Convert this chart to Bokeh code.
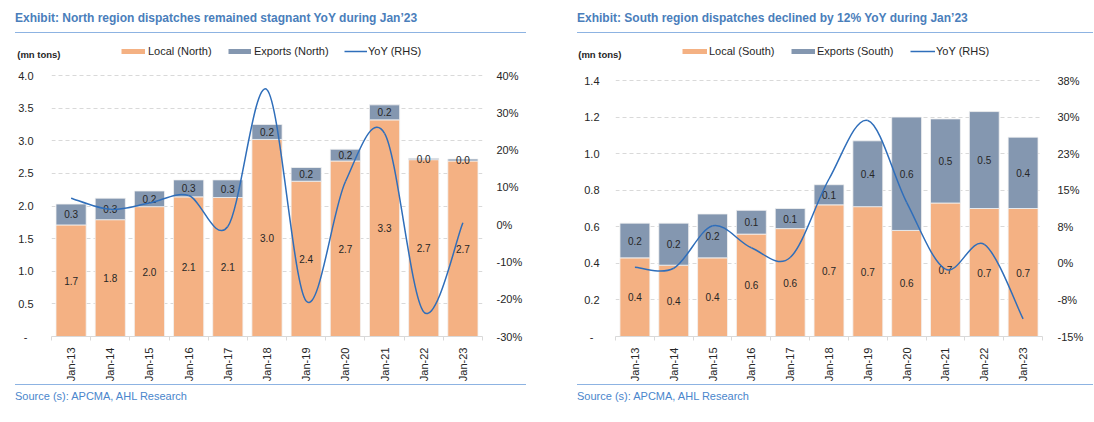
import math
from bokeh.plotting import figure
from bokeh.models import (ColumnDataSource, Range1d, LinearAxis, FixedTicker,
                          Legend, LegendItem, Div)
from bokeh.layouts import row, column
from bokeh.core.properties import value
from bokeh.embed import file_html
from bokeh.resources import INLINE

# ---------------- data ----------------
categories = ["Jan-13", "Jan-14", "Jan-15", "Jan-16", "Jan-17", "Jan-18",
              "Jan-19", "Jan-20", "Jan-21", "Jan-22", "Jan-23"]

north_local = [1.71, 1.79, 1.99, 2.14, 2.13, 3.02, 2.38, 2.69, 3.32, 2.71, 2.69]
north_exports = [0.32, 0.33, 0.24, 0.26, 0.27, 0.23, 0.21, 0.18, 0.23, 0.02, 0.03]
north_yoy = [7.1, 4.1, 5.8, 7.8, -0.5, 36.2, -20.5, 11.5, 24.5, -23.4, 0.5]

south_local = [0.43, 0.39, 0.43, 0.56, 0.59, 0.72, 0.71, 0.58, 0.73, 0.70, 0.70]
south_exports = [0.19, 0.23, 0.24, 0.13, 0.11, 0.11, 0.36, 0.62, 0.46, 0.53, 0.39]
south_yoy = [-0.8, -1.0, 7.7, 3.2, 1.2, 17.3, 29.3, 12.5, -1.2, 3.9, -11.4]

north_left_ticks = [0, 0.5, 1.0, 1.5, 2.0, 2.5, 3.0, 3.5, 4.0]
north_left_labels = ["-\u00a0\u00a0", "0.5", "1.0", "1.5", "2.0", "2.5", "3.0", "3.5", "4.0"]
north_right_ticks = [-30, -20, -10, 0, 10, 20, 30, 40]
north_right_labels = ["-30%", "-20%", "-10%", "0%", "10%", "20%", "30%", "40%"]

south_left_ticks = [0, 0.2, 0.4, 0.6, 0.8, 1.0, 1.2, 1.4]
south_left_labels = ["-\u00a0\u00a0", "0.2", "0.4", "0.6", "0.8", "1.0", "1.2", "1.4"]
south_right_ticks = [-15, -7.5, 0, 7.5, 15, 22.5, 30, 37.5]
south_right_labels = ["-15%", "-8%", "0%", "8%", "15%", "23%", "30%", "38%"]

north_title = "Exhibit: North region dispatches remained stagnant YoY during Jan\u201923"
south_title = "Exhibit: South region dispatches declined by 12% YoY during Jan\u201923"
north_legend = ["Local (North)", "Exports (North)", "YoY (RHS)"]
south_legend = ["Local (South)", "Exports (South)", "YoY (RHS)"]
unit_label = "(mn tons)"
source_text = "Source (s): APCMA, AHL Research"

# ---------------- style ----------------
C_LOCAL = "#F4B183"
C_EXP = "#8497B0"
C_LINE = "#2F6EBA"
C_GRID = "#D9D9D9"
C_TXT = "#262626"
C_TITLE = "#4A7EBB"
C_SRC = "#4A86CC"
C_RULE = "#8DB3E2"
FONT = "Liberation Sans"

PANEL_W = 547
TITLE_H = 36
LEG_H = 26
LEG_TOP = 9
FIG_H = 322
SRC_H = 38
BORDER_TOP = 2
BORDER_BOTTOM = 48
FRAME_H = FIG_H - BORDER_TOP - BORDER_BOTTOM


def smooth_segments(xs, ys):
    """Catmull-Rom style cubic Bezier segments through the data points."""
    n = len(xs)
    d = dict(x0=[], y0=[], x1=[], y1=[], cx0=[], cy0=[], cx1=[], cy1=[])
    for i in range(n - 1):
        xp, yp = (xs[i - 1], ys[i - 1]) if i > 0 else (xs[i], ys[i])
        xn, yn = (xs[i + 2], ys[i + 2]) if i + 2 < n else (xs[i + 1], ys[i + 1])
        d["x0"].append(xs[i]); d["y0"].append(ys[i])
        d["x1"].append(xs[i + 1]); d["y1"].append(ys[i + 1])
        d["cx0"].append(xs[i] + (xs[i + 1] - xp) / 6.0)
        d["cy0"].append(ys[i] + (ys[i + 1] - yp) / 6.0)
        d["cx1"].append(xs[i + 1] - (xn - xs[i]) / 6.0)
        d["cy1"].append(ys[i + 1] - (yn - ys[i]) / 6.0)
    return d


def make_chart(local, exports, yoy, lticks, llabels, rticks, rlabels,
               border_left, border_right, top_tick_px, left_standoff, right_standoff):
    n = len(categories)
    xs = list(range(n))
    scale = FRAME_H / (FRAME_H - top_tick_px)
    lmax = lticks[-1]
    rmin, rmax = rticks[0], rticks[-1]

    p = figure(width=PANEL_W, height=FIG_H, output_backend="svg", toolbar_location=None,
               x_range=Range1d(-0.5, n - 0.5), y_range=Range1d(0, lmax * scale),
               min_border_left=border_left, min_border_right=border_right,
               min_border_top=BORDER_TOP, min_border_bottom=BORDER_BOTTOM)
    p.extra_y_ranges = {"yoy": Range1d(rmin, rmin + (rmax - rmin) * scale)}
    p.outline_line_color = None
    p.background_fill_color = "white"
    p.border_fill_color = "white"

    src = ColumnDataSource(dict(
        x=xs, local=local, exports=exports,
        ly=[v / 2.0 for v in local],
        ey=[a + b / 2.0 for a, b in zip(local, exports)],
        lt=[f"{v:.1f}" for v in local],
        et=[f"{v:.1f}" for v in exports],
    ))
    p.vbar_stack(["local", "exports"], x="x", width=0.77, color=[C_LOCAL, C_EXP],
                 line_color="#F2F2F2", line_width=0.8, source=src)
    for ycol, tcol in (("ly", "lt"), ("ey", "et")):
        p.text(x="x", y=ycol, text=tcol, source=src, text_align="center",
               text_baseline="middle", text_font=value(FONT),
               text_font_size="10px", text_color=C_TXT)

    bsrc = ColumnDataSource(smooth_segments(xs, yoy))
    p.bezier(x0="x0", y0="y0", x1="x1", y1="y1", cx0="cx0", cy0="cy0",
             cx1="cx1", cy1="cy1", source=bsrc, line_color=C_LINE,
             line_width=1.5, y_range_name="yoy")

    ya = p.yaxis[0]
    ya.ticker = FixedTicker(ticks=lticks)
    ya.major_label_overrides = dict(zip(lticks, llabels))
    ya.axis_line_color = None
    ya.major_tick_line_color = None
    ya.minor_tick_line_color = None
    ya.major_label_standoff = left_standoff
    ya.major_label_text_font = FONT
    ya.major_label_text_font_size = "11px"
    ya.major_label_text_color = C_TXT

    ra = LinearAxis(y_range_name="yoy", ticker=FixedTicker(ticks=rticks),
                    major_label_overrides=dict(zip(rticks, rlabels)))
    ra.axis_line_color = None
    ra.major_tick_line_color = None
    ra.minor_tick_line_color = None
    ra.major_label_standoff = right_standoff
    ra.major_label_text_font = FONT
    ra.major_label_text_font_size = "11px"
    ra.major_label_text_color = C_TXT
    p.add_layout(ra, "right")

    xa = p.xaxis[0]
    xa.ticker = FixedTicker(ticks=xs, minor_ticks=[i - 0.5 for i in range(n + 1)])
    xa.major_label_overrides = dict(zip(xs, categories))
    xa.major_tick_line_color = None
    xa.major_tick_out = 0
    xa.major_tick_in = 0
    xa.minor_tick_line_color = C_GRID
    xa.minor_tick_out = 4
    xa.minor_tick_in = 0
    xa.axis_line_color = C_GRID
    xa.major_label_orientation = math.pi / 2
    xa.major_label_standoff = 7
    xa.major_label_text_font = FONT
    xa.major_label_text_font_size = "11px"
    xa.major_label_text_color = C_TXT

    p.xgrid.grid_line_color = None
    p.ygrid.ticker = FixedTicker(ticks=lticks)
    p.ygrid.grid_line_color = C_GRID
    p.ygrid.grid_line_dash = "4 3"
    p.ygrid.grid_line_width = 1
    return p


def make_legend_strip(local, exports, yoy, labels, unit_standoff, specs):
    """A thin strip (frame aligned with the chart below) holding the unit caption and key."""
    xs = list(range(len(categories)))
    lf = figure(width=PANEL_W, height=LEG_H, output_backend="svg", toolbar_location=None,
                x_axis_type=None, min_border=0, min_border_top=LEG_TOP,
                x_range=Range1d(-0.5, len(xs) - 0.5), y_range=Range1d(0, 1))
    lf.outline_line_color = None
    lf.xgrid.visible = False
    lf.ygrid.visible = False
    lf.background_fill_color = "white"
    lf.border_fill_color = "white"
    ax = lf.yaxis[0]
    ax.ticker = FixedTicker(ticks=[])
    ax.axis_line_color = None
    ax.major_tick_line_color = None
    ax.minor_tick_line_color = None
    ax.axis_label = unit_label
    ax.axis_label_orientation = "horizontal"
    ax.axis_label_standoff = unit_standoff
    ax.axis_label_text_font = FONT
    ax.axis_label_text_font_size = "9.5px"
    ax.axis_label_text_font_style = "bold"
    ax.axis_label_text_color = C_TXT

    k_local = lf.line(x=xs, y=local, line_color=C_LOCAL, line_width=5, visible=False)
    k_exp = lf.line(x=xs, y=exports, line_color=C_EXP, line_width=5, visible=False)
    k_yoy = lf.line(x=xs, y=yoy, line_color=C_LINE, line_width=1.5, visible=False)
    for lab, rend, (vx, gw, st) in zip(labels, [k_local, k_exp, k_yoy], specs):
        lg = Legend(items=[LegendItem(label=lab, renderers=[rend])],
                    location=(vx, 4), orientation="horizontal",
                    glyph_width=gw, glyph_height=14, label_height=14,
                    label_standoff=st, padding=0, margin=0, spacing=0,
                    border_line_color=None, background_fill_alpha=0,
                    label_text_font=FONT, label_text_font_size="11px",
                    label_text_color=C_TXT)
        lf.add_layout(lg)
    return lf


def title_div(text, left, width):
    html = (f'<div style="margin-left:{left}px;width:{width}px;height:33px;box-sizing:border-box;'
            f'padding-top:11px;border-bottom:1.5px solid {C_RULE};font-family:\'{FONT}\';'
            f'font-weight:bold;font-size:12px;line-height:14px;color:{C_TITLE};white-space:nowrap;">'
            f'{text}</div>')
    return Div(text=html, width=PANEL_W, height=TITLE_H, margin=(0, 0, 0, 0))


def source_div(text, left, width):
    html = (f'<div style="margin-left:{left}px;width:{width}px;box-sizing:border-box;'
            f'padding-top:5px;border-top:1.5px solid {C_RULE};font-family:\'{FONT}\';'
            f'font-size:11px;line-height:13px;color:{C_SRC};white-space:nowrap;">'
            f'{text}</div>')
    return Div(text=html, width=PANEL_W, height=SRC_H, margin=(0, 0, 0, 0))


l1 = make_legend_strip(north_local, north_exports, north_yoy, north_legend,
                       unit_standoff=-9, specs=[(70, 24, 3), (177, 23, 3), (293, 23, 1)])
p1 = make_chart(north_local, north_exports, north_yoy,
                north_left_ticks, north_left_labels, north_right_ticks, north_right_labels,
                border_left=51, border_right=65, top_tick_px=11,
                left_standoff=12, right_standoff=8)

l2 = make_legend_strip(south_local, south_exports, south_yoy, south_legend,
                       unit_standoff=-6, specs=[(67, 25, 2), (176, 24, 2), (295, 25, 1)])
p2 = make_chart(south_local, south_exports, south_yoy,
                south_left_ticks, south_left_labels, south_right_ticks, south_right_labels,
                border_left=68, border_right=52, top_tick_px=16,
                left_standoff=10, right_standoff=9)

left = column(title_div(north_title, 15, 511), l1, p1, source_div(source_text, 15, 511),
              spacing=0, margin=(0, 0, 0, 0))
right = column(title_div(south_title, 30, 516), l2, p2, source_div(source_text, 30, 516),
               spacing=0, margin=(0, 0, 0, 0))
layout = row(left, right, spacing=0, margin=(0, 0, 0, 0))

with open("out.html", "w") as f:
    f.write(file_html(layout, INLINE))
